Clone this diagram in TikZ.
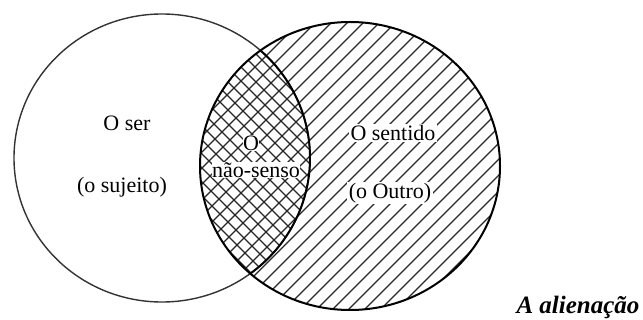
\documentclass[tikz,border=0pt]{standalone}
\usepackage{fontspec}
\setmainfont{Liberation Serif}
\begin{document}
\begin{tikzpicture}[x=1pt,y=-1pt,
  lbl/.style={inner sep=1.5pt, font=\fontsize{22}{24}\selectfont},
  lblw/.style={lbl, fill=white},
  hatch/.style={line width=1.1pt, black!85},
  rim/.style={line width=2pt}]
\useasboundingbox (0,0) rectangle (643,320);
% shapes
\def\leftell{(162,158) ellipse [x radius=148, y radius=144]}
\def\rightell{(350,166) ellipse [x radius=150, y radius=144]}
% single hatching in right circle
\begin{scope}
  \clip \rightell;
  \foreach \a in {-200,-184,...,700} {
    \draw[hatch] (\a,330) -- (\a+340,-10);
  }
\end{scope}
% cross hatching in the lens
\begin{scope}
  \clip \rightell;
  \clip \leftell;
  \foreach \a in {-200,-186,...,600} {
    \draw[hatch] (\a,-10) -- (\a+340,330);
  }
\end{scope}
% outlines
\draw[line width=1.4pt, black!80] \leftell;
\draw[rim] \rightell;
\begin{scope}
  \clip \rightell;
  \draw[rim] \leftell;
\end{scope}
% labels
\node[lbl] (ser) at (127,123) {O ser};
\node[lbl] (sujeito) at (122,187) {(o sujeito)};
\node[lblw, inner sep=0.5pt] (o) at (251,143) {O};
\node[lblw, inner sep=0.5pt] (naosenso) at (256,170) {não-senso};
\node[lblw] (sentido) at (393,133) {O sentido};
\node[lblw] (outro) at (390,193) {(o Outro)};
\node[inner sep=0pt, font=\fontsize{25}{27}\selectfont\itshape\bfseries] (alien) at (578,307) {A alienação};
\end{tikzpicture}
\end{document}
